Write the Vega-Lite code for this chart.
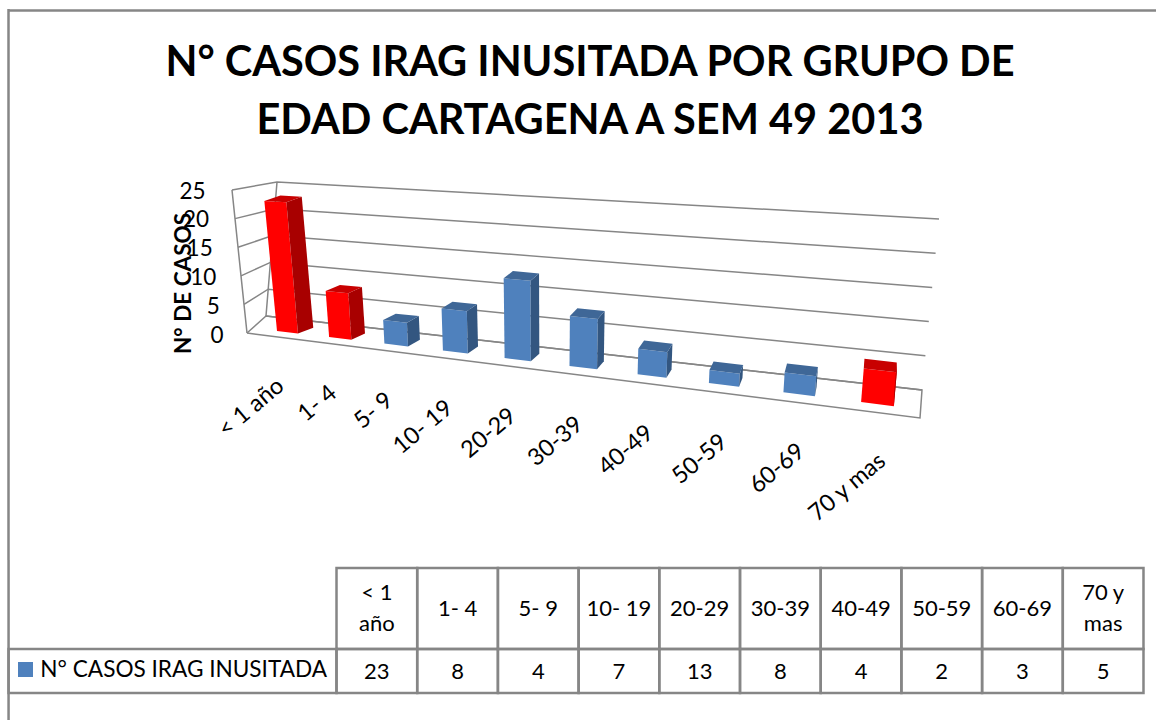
{
 "$schema":"https://vega.github.io/schema/vega-lite/v6.json",
 "padding":0,"spacing":0,"background":"white","bounds":"flush",
 "autosize":{"type":"pad"},
 "config":{"view":{"stroke":null},"font":"Lato","concat":{"spacing":0}},
 "datasets":{
  "casos":[
   {"grupo":"< 1 año","casos":23},{"grupo":"1- 4","casos":8},{"grupo":"5- 9","casos":4},{"grupo":"10- 19","casos":7},{"grupo":"20-29","casos":13},
   {"grupo":"30-39","casos":8},{"grupo":"40-49","casos":4},{"grupo":"50-59","casos":2},{"grupo":"60-69","casos":3},{"grupo":"70 y mas","casos":5}],
  "rejilla":[{"v":0},{"v":5},{"v":10},{"v":15},{"v":20},{"v":25}]
 },
 "vconcat":[
  {
   "width":1156,"height":560,
   "title":{"text":["N° CASOS IRAG INUSITADA POR GRUPO DE","EDAD CARTAGENA A SEM 49 2013"],"font":"Lato","fontSize":41.5,"fontWeight":"bold","color":"#000000","lineHeight":58,"anchor":"middle","dx":12,"offset":-175.5,"baseline":"alphabetic"},
   "layer":[
    {"data":{"name":"rejilla"},
     "transform":[{"calculate":"[0,1,2]","as":"p"},{"flatten":["p"]},
      {"calculate":"datum.p==0?247-0.6*datum.v:datum.p==1?266+0.44*datum.v:922+0.68*datum.v","as":"px"},
      {"calculate":"(335-(datum.p==0?333-5.72*datum.v:datum.p==1?316-5.36*datum.v:390-6.84*datum.v))/5.76","as":"py"}],
     "mark":{"type":"line","stroke":"#868686","strokeWidth":1.5},
     "encoding":{"x":{"field":"px","type":"quantitative","scale":{"domain":[0,1156],"nice":false,"zero":false},"axis":null},
      "y":{"field":"py","type":"quantitative","scale":{"domain":[-39.06,58.16],"nice":false,"zero":false},
       "axis":{"values":[0,5,10,15,20,25],"domain":false,"ticks":false,"grid":false,"offset":-228,"labelPadding":5,"labelFontSize":22.5,"labelFont":"Lato","labelColor":"#000000","labelAngle":0,
        "encoding":{"labels":{"dx":{"value":{"signal":"-0.72*datum.value"}}}},
        "title":"N° DE CASOS","titleFont":"Lato","titleFontSize":22.5,"titleFontWeight":"bold","titleColor":"#000000","titleX":-45,"titleY":283,"titleAngle":-90,"titleAlign":"center","titleBaseline":"middle"}},
      "detail":{"field":"v"},"order":{"field":"p"}}},
    {"data":{"name":"rejilla"},
     "transform":[{"calculate":"[0,1]","as":"borde"},{"flatten":["borde"]},
      {"calculate":"datum.borde==0?247-0.6*datum.v:266+0.44*datum.v","as":"px"},
      {"calculate":"(335-(datum.borde==0?333-5.72*datum.v:316-5.36*datum.v))/5.76","as":"py"}],
     "mark":{"type":"line","stroke":"#868686","strokeWidth":1.5},
     "encoding":{"x":{"field":"px","type":"quantitative"},"y":{"field":"py","type":"quantitative"},"detail":{"field":"borde"},"order":{"field":"v"}}},
    {"data":{"values":[{"p":0},{"p":1},{"p":2},{"p":3}]},
     "transform":[
      {"calculate":"[247,920,922,266][datum.p]","as":"px"},
      {"calculate":"(335-[333,418,390,316][datum.p])/5.76","as":"py"}],
     "mark":{"type":"line","stroke":"#868686","strokeWidth":1.5},
     "encoding":{"x":{"field":"px","type":"quantitative"},"y":{"field":"py","type":"quantitative"},"order":{"field":"p"}}},
    {"data":{"name":"casos"},
     "transform":[
      {"window":[{"op":"row_number","as":"n"}]},
      {"calculate":"datum.n-1","as":"t"},
      {"calculate":"['frente','lado','tapa']","as":"cara"},{"flatten":["cara"]},
      {"calculate":"[0,1,2,3]","as":"e"},{"flatten":["e"]},
      {"calculate":"datum.cara=='lado'?1:((datum.e==1||datum.e==2)?1:0)","as":"s"},
      {"calculate":"datum.cara=='tapa'?1:(datum.e>=2?1:0)","as":"h"},
      {"calculate":"datum.cara=='frente'?0:datum.cara=='lado'?((datum.e==1||datum.e==2)?1:0):(datum.e>=2?1:0)","as":"d"},
      {"calculate":"datum.t+0.41*datum.s","as":"T"},
      {"calculate":"datum.casos*datum.h","as":"H"},
      {"calculate":"277+50.5*datum.T+1.6*datum.T*datum.T+datum.H*(-0.55+0.12*datum.T)+datum.d*(16-1.7*datum.T)","as":"px"},
      {"calculate":"(335-(331+5.84*datum.T+0.228*datum.T*datum.T-datum.H*(5.65+0.12*datum.T)-datum.d*(5.5+0.45*datum.T)))/5.76","as":"py"},
      {"calculate":"datum.cara+(indexof(['< 1 año','1- 4','70 y mas'],datum.grupo)>=0?' rojo':' azul')","as":"tono"}
     ],
     "mark":{"type":"line","strokeWidth":0,"interpolate":"linear"},
     "encoding":{"x":{"field":"px","type":"quantitative"},"y":{"field":"py","type":"quantitative"},
      "fill":{"field":"tono","type":"nominal","legend":null,"scale":{"domain":["frente rojo","lado rojo","tapa rojo","frente azul","lado azul","tapa azul"],"range":["#ff0000","#a80000","#c80000","#4f81bd","#335680","#3f6797"]}},
      "detail":{"field":"grupo"},"order":{"field":"e"}}},
    {"data":{"name":"casos"},
     "transform":[
      {"window":[{"op":"row_number","as":"n"}]},
      {"calculate":"datum.n-1","as":"t"},
      {"calculate":"281+51*datum.t+1.76*datum.t*datum.t","as":"px"},
      {"calculate":"(335-(383+6.83*datum.t+0.167*datum.t*datum.t))/5.76","as":"py"}
     ],
     "mark":{"type":"text","angle":320,"align":"right","baseline":"middle","fontSize":23.5,"font":"Lato","color":"#000000"},
     "encoding":{"x":{"field":"px","type":"quantitative"},"y":{"field":"py","type":"quantitative"},"text":{"field":"grupo"}}},
    {"data":{"values":[{"p":0},{"p":1}]},
     "transform":[{"calculate":"datum.p==0?8.5:1156","as":"px"},{"calculate":"(335-10.5)/5.76","as":"py"}],
     "mark":{"type":"line","stroke":"#868686","strokeWidth":2.5},
     "encoding":{"x":{"field":"px","type":"quantitative"},"y":{"field":"py","type":"quantitative"},"order":{"field":"p"}}},
    {"data":{"values":[{"p":0},{"p":1}]},
     "transform":[{"calculate":"8.5","as":"px"},{"calculate":"datum.p==0?(335-9)/5.76:-39.06","as":"py"}],
     "mark":{"type":"line","stroke":"#868686","strokeWidth":2.5},
     "encoding":{"x":{"field":"px","type":"quantitative"},"y":{"field":"py","type":"quantitative"},"order":{"field":"p"}}}
   ]
  },
  {
   "width":1156,"height":160,
   "layer":[
    {"data":{"name":"casos"},
     "transform":[{"window":[{"op":"row_number","as":"n"}]},{"calculate":"datum.n-1","as":"col"},{"calculate":"datum.n","as":"col2"}],
     "mark":{"type":"rect","fillOpacity":0,"stroke":"#868686","strokeWidth":2.5},
     "encoding":{"x":{"field":"col","type":"quantitative","scale":{"domain":[-4.17,10.155],"nice":false,"zero":false},"axis":null},"x2":{"field":"col2"},
      "y":{"datum":0,"type":"quantitative","scale":{"domain":[152,-8],"nice":false,"zero":false},"axis":null},"y2":{"datum":81}}},
    {"data":{"name":"casos"},
     "transform":[{"window":[{"op":"row_number","as":"n"}]},{"calculate":"datum.n-1","as":"col"},{"calculate":"datum.n","as":"col2"}],
     "mark":{"type":"rect","fillOpacity":0,"stroke":"#868686","strokeWidth":2.5},
     "encoding":{"x":{"field":"col","type":"quantitative"},"x2":{"field":"col2"},"y":{"datum":81,"type":"quantitative"},"y2":{"datum":125}}},
    {"data":{"values":[{"serie":"N° CASOS IRAG INUSITADA"}]},
     "mark":{"type":"rect","fillOpacity":0,"stroke":"#868686","strokeWidth":2.5},
     "encoding":{"x":{"datum":-4.064,"type":"quantitative"},"x2":{"datum":0},"y":{"datum":81,"type":"quantitative"},"y2":{"datum":125}}},
    {"data":{"values":[{"p":0},{"p":1}]},
     "transform":[{"calculate":"-4.064","as":"bx"},{"calculate":"datum.p==0?-8:152","as":"by"}],
     "mark":{"type":"line","stroke":"#868686","strokeWidth":2.5},
     "encoding":{"x":{"field":"bx","type":"quantitative"},"y":{"field":"by","type":"quantitative"},"order":{"field":"p"}}},
    {"data":{"name":"casos"},
     "transform":[{"window":[{"op":"row_number","as":"n"}]},{"calculate":"datum.n-0.5","as":"cx"},
      {"calculate":"datum.grupo=='< 1 año'?'< 1\\naño':datum.grupo=='70 y mas'?'70 y\\nmas':datum.grupo","as":"cab"},
      {"calculate":"indexof(datum.cab,'\\n')>=0?25:41","as":"cy"}],
     "mark":{"type":"text","fontSize":22,"font":"Lato","color":"#000000","lineHeight":31,"lineBreak":"\n","baseline":"middle"},
     "encoding":{"x":{"field":"cx","type":"quantitative"},"y":{"field":"cy","type":"quantitative"},"text":{"field":"cab"}}},
    {"data":{"name":"casos"},
     "transform":[{"window":[{"op":"row_number","as":"n"}]},{"calculate":"datum.n-0.5","as":"cx"}],
     "mark":{"type":"text","fontSize":22,"font":"Lato","color":"#000000","baseline":"middle"},
     "encoding":{"x":{"field":"cx","type":"quantitative"},"y":{"datum":104,"type":"quantitative"},"text":{"field":"casos","type":"quantitative"}}},
    {"data":{"values":[{"serie":"N° CASOS IRAG INUSITADA"}]},
     "mark":{"type":"text","fontSize":22.6,"font":"Lato","color":"#000000","align":"left","baseline":"middle"},
     "encoding":{"x":{"datum":-3.67,"type":"quantitative"},"y":{"datum":102,"type":"quantitative"},"text":{"field":"serie"}}},
    {"data":{"values":[{"serie":"N° CASOS IRAG INUSITADA"}]},
     "mark":{"type":"point","shape":"square","filled":true,"size":225,"color":"#4f81bd","opacity":1},
     "encoding":{"x":{"datum":-3.854,"type":"quantitative"},"y":{"datum":101.5,"type":"quantitative"}}}
   ]
  }
 ]
}
